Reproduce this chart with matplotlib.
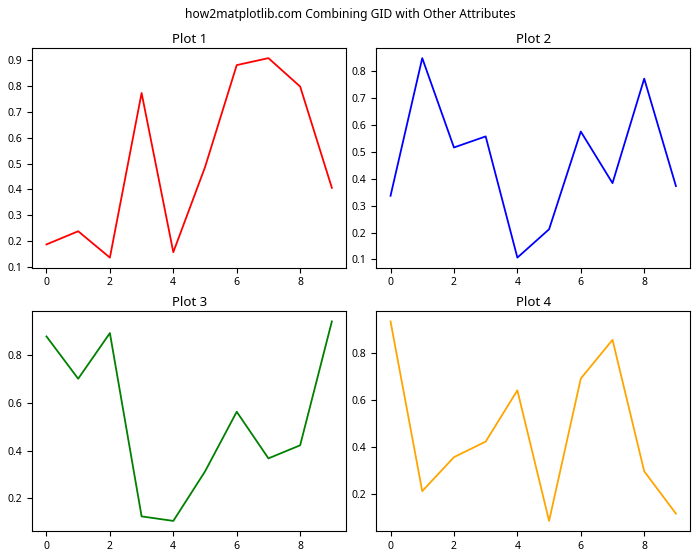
import matplotlib
matplotlib.use("Agg")
import matplotlib.pyplot as plt
import numpy as np

plt.rcParams["font.family"] = ["Noto Sans", "DejaVu Sans"]

# -----------------------
# Data
# -----------------------
x = np.arange(10)
y1 = [0.187, 0.238, 0.136, 0.773, 0.157, 0.486, 0.881, 0.908, 0.798, 0.406]
y2 = [0.336, 0.846, 0.515, 0.556, 0.107, 0.212, 0.574, 0.383, 0.770, 0.372]
y3 = [0.880, 0.702, 0.894, 0.123, 0.104, 0.312, 0.563, 0.367, 0.422, 0.943]
y4 = [0.933, 0.214, 0.358, 0.424, 0.641, 0.088, 0.691, 0.855, 0.298, 0.119]
series = [y1, y2, y3, y4]
colors = ["red", "blue", "green", "orange"]
titles = ["Plot 1", "Plot 2", "Plot 3", "Plot 4"]

fig, axs = plt.subplots(2, 2, figsize=(7, 5.6), dpi=100)

for ax, y, c, t in zip(axs.flat, series, colors, titles):
    ax.plot(x, y, color=c, linewidth=1.3, gid=f"{t.lower().replace(' ', '_')}_line")
    ax.set_title(t, fontsize=9.5, pad=4)
    ax.tick_params(labelsize=7.5)

fig.suptitle("how2matplotlib.com Combining GID with Other Attributes", fontsize=8.7, y=0.985)
fig.subplots_adjust(left=0.046, right=0.986, top=0.914, bottom=0.052,
                    wspace=0.096, hspace=0.2)
plt.savefig("out.png")
